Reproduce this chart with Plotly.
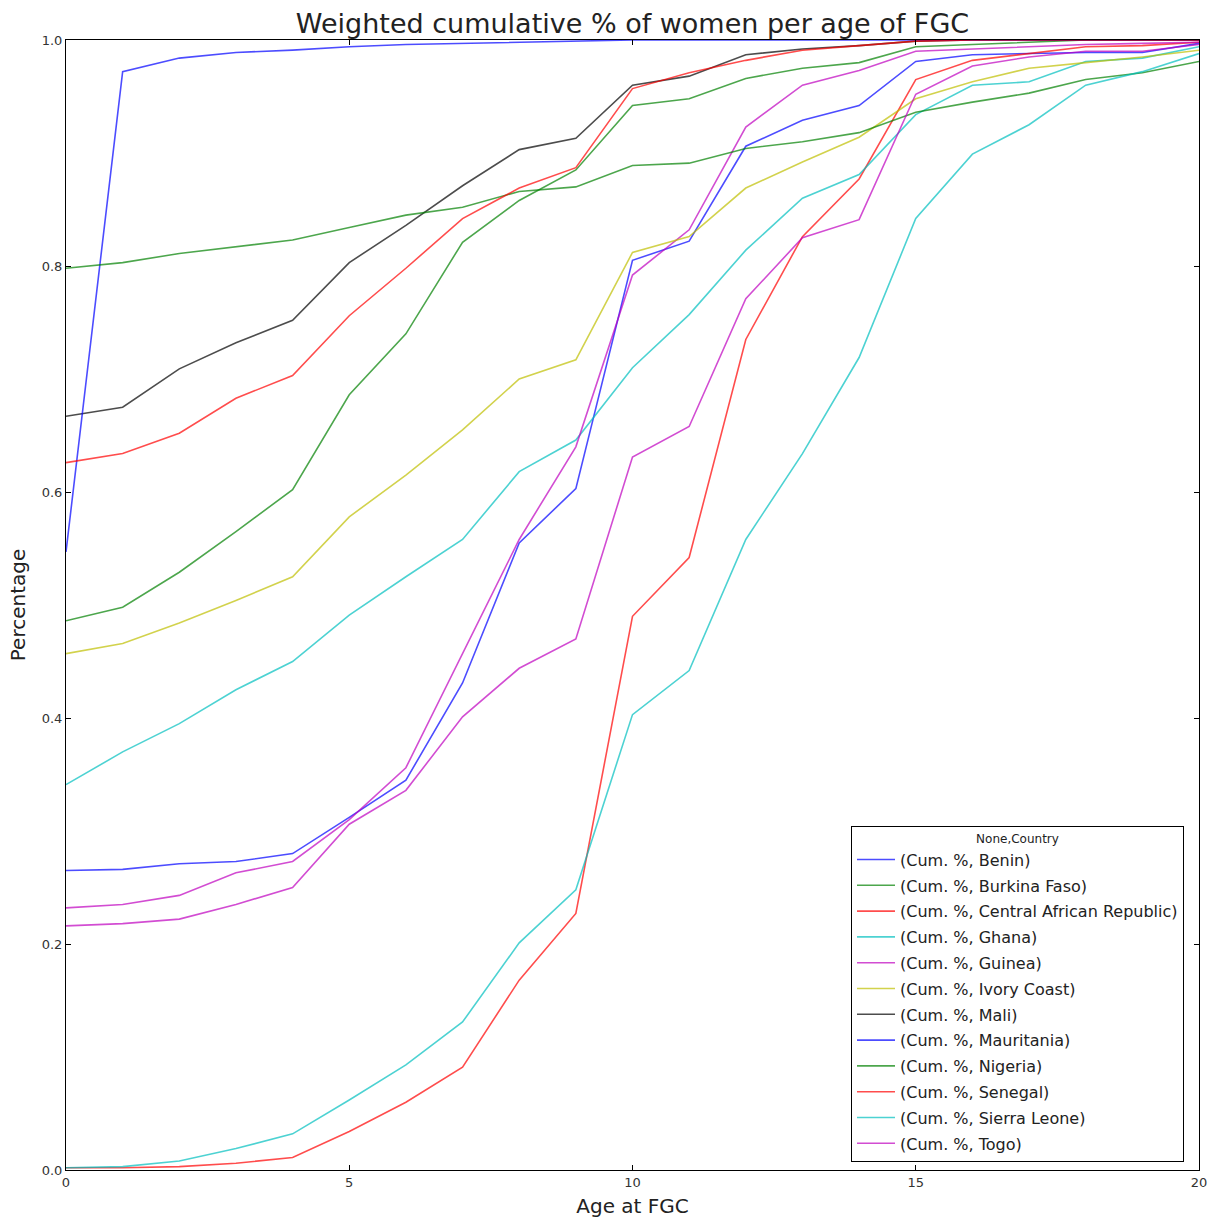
import plotly.graph_objects as go

ages = list(range(21))

countries = ["Benin", "Burkina Faso", "Central African Republic", "Ghana", "Guinea",
             "Ivory Coast", "Mali", "Mauritania", "Nigeria", "Senegal", "Sierra Leone", "Togo"]

benin = [0.265, 0.266, 0.271, 0.273, 0.280, 0.312, 0.345, 0.431, 0.555, 0.603, 0.805,
         0.822, 0.906, 0.929, 0.942, 0.981, 0.987, 0.988, 0.989, 0.989, 0.997]
burkina_faso = [0.486, 0.498, 0.529, 0.565, 0.602, 0.686, 0.740, 0.821, 0.858, 0.885, 0.942,
                0.948, 0.966, 0.975, 0.980, 0.994, 0.996, 0.998, 1.0, 1.0, 1.0]
car = [0.002, 0.002, 0.003, 0.006, 0.011, 0.034, 0.060, 0.091, 0.168, 0.227, 0.490,
       0.542, 0.735, 0.826, 0.877, 0.965, 0.982, 0.988, 0.994, 0.995, 0.998]
ghana = [0.341, 0.370, 0.395, 0.425, 0.450, 0.491, 0.525, 0.558, 0.618, 0.646, 0.710,
         0.757, 0.814, 0.860, 0.881, 0.934, 0.960, 0.963, 0.981, 0.984, 0.994]
guinea = [0.232, 0.235, 0.243, 0.263, 0.273, 0.310, 0.356, 0.457, 0.558, 0.640, 0.792,
          0.832, 0.923, 0.960, 0.973, 0.990, 0.992, 0.994, 0.996, 0.997, 0.998]
ivory_coast = [0.457, 0.466, 0.484, 0.504, 0.525, 0.578, 0.615, 0.655, 0.700, 0.717, 0.812,
               0.826, 0.869, 0.892, 0.914, 0.948, 0.963, 0.975, 0.980, 0.985, 0.991]
mali = [0.667, 0.675, 0.709, 0.732, 0.752, 0.803, 0.836, 0.871, 0.903, 0.913, 0.960,
        0.968, 0.987, 0.992, 0.995, 0.999, 1.0, 1.0, 1.0, 1.0, 1.0]
mauritania = [0.547, 0.972, 0.984, 0.989, 0.991, 0.994, 0.996, 0.997, 0.998, 0.999, 1.0,
              1.0, 1.0, 1.0, 1.0, 1.0, 1.0, 1.0, 1.0, 1.0, 1.0]
nigeria = [0.798, 0.803, 0.811, 0.817, 0.823, 0.834, 0.845, 0.852, 0.866, 0.870, 0.889,
           0.891, 0.904, 0.910, 0.918, 0.936, 0.945, 0.953, 0.965, 0.971, 0.981]
senegal = [0.626, 0.634, 0.652, 0.683, 0.703, 0.756, 0.798, 0.842, 0.869, 0.887, 0.957,
           0.971, 0.982, 0.991, 0.995, 0.999, 1.0, 1.0, 1.0, 1.0, 1.0]
sierra_leone = [0.002, 0.003, 0.008, 0.019, 0.032, 0.062, 0.093, 0.131, 0.201, 0.248, 0.403,
                0.442, 0.558, 0.634, 0.719, 0.842, 0.899, 0.925, 0.960, 0.972, 0.988]
togo = [0.216, 0.218, 0.222, 0.235, 0.250, 0.306, 0.336, 0.401, 0.444, 0.470, 0.631,
        0.658, 0.771, 0.825, 0.841, 0.952, 0.977, 0.985, 0.990, 0.990, 0.996]

series = [benin, burkina_faso, car, ghana, guinea, ivory_coast, mali, mauritania,
          nigeria, senegal, sierra_leone, togo]

colors = ["rgba(0,0,255,0.7)", "rgba(0,128,0,0.7)", "rgba(255,0,0,0.7)",
          "rgba(0,191,191,0.7)", "rgba(191,0,191,0.7)", "rgba(191,191,0,0.7)",
          "rgba(0,0,0,0.7)", "rgba(0,0,255,0.7)", "rgba(0,128,0,0.7)",
          "rgba(255,0,0,0.7)", "rgba(0,191,191,0.7)", "rgba(191,0,191,0.7)"]

FONT = "DejaVu Sans, sans-serif"

W, H = 1210, 1221
ML, MT, PW, PH = 66, 40, 1133, 1130

fig = go.Figure()
for i, (name, vals) in enumerate(zip(countries, series)):
    fig.add_trace(go.Scatter(
        x=ages, y=vals, mode="lines", name=f"(Cum. %, {name})",
        line=dict(color=colors[i], width=1.6), legendgroup=f"g{i}",
    ))

axis_common = dict(
    showgrid=False, zeroline=False, showline=True, linecolor="black", linewidth=1,
    mirror="allticks", ticks="inside", ticklen=5, tickcolor="black",
    tickfont=dict(family=FONT, size=13, color="#333"), automargin=False,
    ticklabeloverflow="allow",
)

fig.update_layout(
    width=W, height=H,
    margin=dict(l=ML, r=W - ML - PW, t=MT, b=H - MT - PH, autoexpand=False),
    paper_bgcolor="white", plot_bgcolor="white",
    font=dict(family=FONT, color="black"),
    title=dict(text="Weighted cumulative % of women per age of FGC",
               x=0.5, xref="paper", xanchor="center",
               y=1 - 24 / H, yref="container", yanchor="middle",
               font=dict(family=FONT, size=27, color="#222")),
    xaxis=dict(range=[0, 20], tickvals=[0, 5, 10, 15, 20],
               title=dict(text="Age at FGC", font=dict(family=FONT, size=20, color="#222"), standoff=10),
               **axis_common),
    yaxis=dict(range=[0, 1.0], tickvals=[0, 0.2, 0.4, 0.6, 0.8, 1.0], tickformat=".1f",
               title=dict(text="Percentage", font=dict(family=FONT, size=20, color="#222"), standoff=10),
               **axis_common),
    showlegend=True,
    legend=dict(
        x=(851 - ML) / PW, y=(MT + PH - 826) / PH, xanchor="left", yanchor="top",
        bgcolor="white", bordercolor="black", borderwidth=1,
        font=dict(family=FONT, size=16, color="#222"),
        title=dict(text="None,Country", side="top center", font=dict(family=FONT, size=12, color="#222")),
        tracegroupgap=2, itemwidth=38,
    ),
)

fig.write_html("out.html", config={"displayModeBar": False},
               post_script="document.body.style.margin='0px';document.body.style.overflow='hidden';")
